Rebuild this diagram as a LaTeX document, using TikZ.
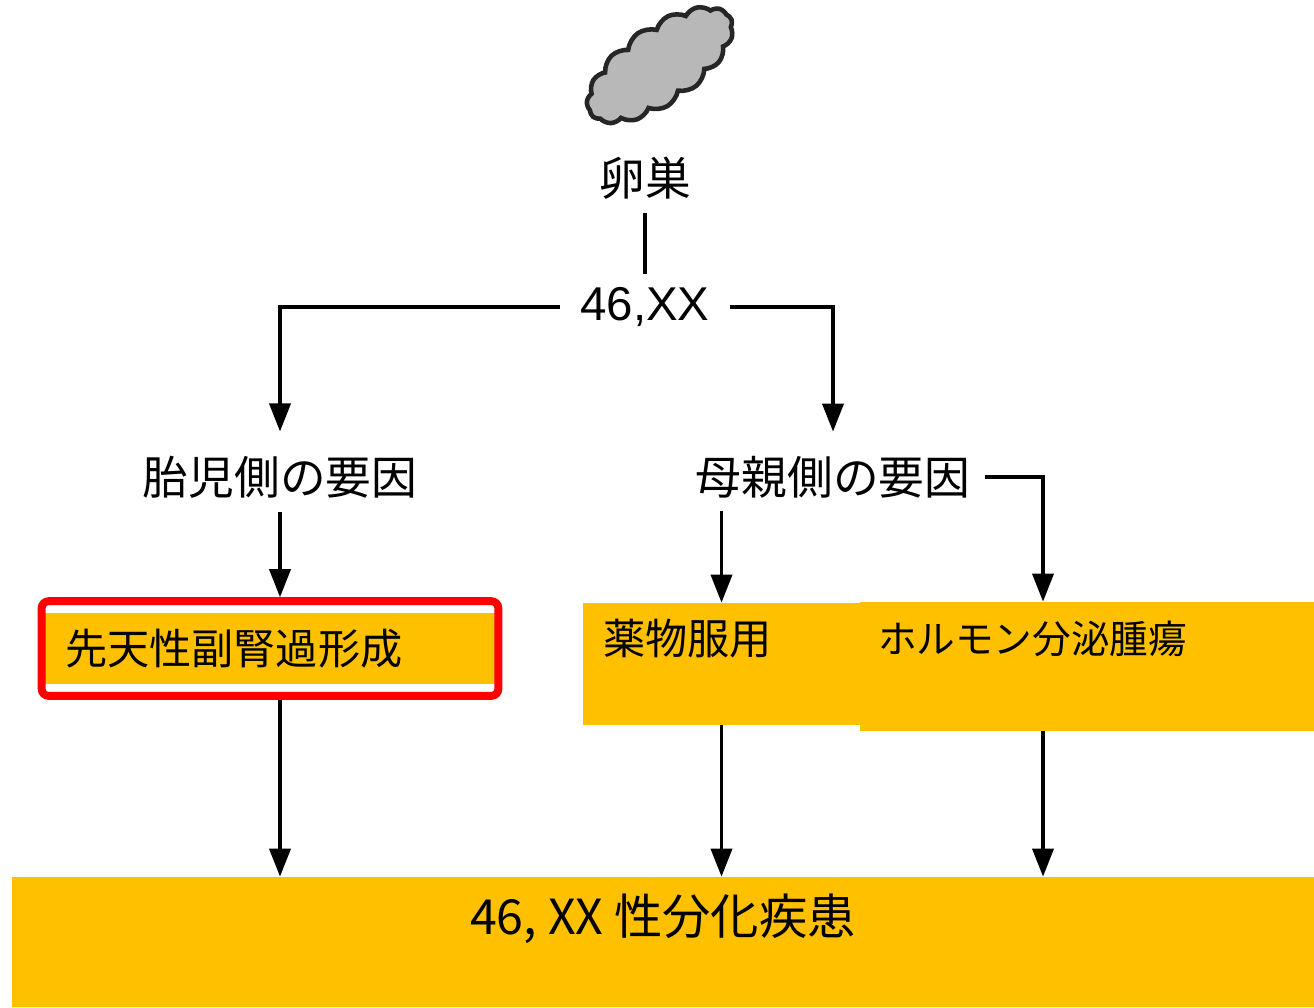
\documentclass[tikz,border=0pt]{standalone}
\usepackage{fontspec}
\setmainfont{Noto Sans CJK JP}
\newfontfamily\latinfont{Liberation Sans}
\usepackage{tikz}
\usetikzlibrary{arrows.meta,positioning,calc,fit,shapes.symbols}
\definecolor{boxorange}{RGB}{255,192,0}

\begin{document}
\begin{tikzpicture}[node distance=1cm, auto]

\tikzstyle{organ} = [cloud, cloud puffs=15, cloud puff arc=100, aspect=2.3, minimum width=3.4cm, minimum height=1.55cm, fill=black!28, draw=black!85, line width=2.6pt]
\tikzstyle{caption} = [inner xsep=0.3cm, inner ysep=0.26cm, font=\fontsize{26}{30}\selectfont]
\tikzstyle{cause} = [rectangle, fill=boxorange, inner ysep=0pt, font=\fontsize{24}{28}\selectfont]
\tikzstyle{redframe} = [rectangle, rounded corners=4pt, draw=red, line width=4.5pt, inner xsep=0.06cm, inner ysep=0.23cm]
\tikzstyle{line} = [line width=2.1pt]
\tikzstyle{arrow} = [line width=2.1pt,-{Triangle[length=16pt,width=12pt]}]

\useasboundingbox (0,0) rectangle (26.28,-20.14);

\node (gonad) [organ, rotate=35] at (13.2,-1.3) {};
\node (ovary) [caption, below of=gonad, xshift=-0.3cm, yshift=-1.26cm] {卵巣};
\node (xx) [caption, below of=ovary, yshift=-1.58cm, inner xsep=0.4cm, font=\latinfont\fontsize{27}{32}\selectfont] {46,XX};
\node (fetal) [caption, below of=xx, xshift=-7.3cm, yshift=-2.4cm] {胎児側の要因};
\node (mother) [caption, right of=fetal, xshift=10.06cm] {母親側の要因};

\node (cah) [cause, below of=fetal, xshift=-0.2cm, yshift=-2.43cm, inner xsep=0.4cm, text width=8.2cm, minimum height=1.42cm] {先天性副腎過形成};
\node (cahframe) [redframe, fit=(cah)] {};
\node (drug) [cause, below of=mother, xshift=-2.23cm, yshift=-2.74cm, inner xsep=0.4cm, inner ysep=0.32cm] {\parbox[c][1.8cm][t]{4.74cm}{薬物服用}};
\node (tumor) [cause, right of=drug, xshift=6.31cm, yshift=-0.05cm, inner xsep=0.36cm, inner ysep=0.38cm, font=\fontsize{22}{26}\selectfont] {\parbox[c][1.82cm][t]{8.36cm}{ホルモン分泌腫瘍}};
\node (final) [cause, below of=xx, xshift=0.36cm, yshift=-11.70cm, inner xsep=0.37cm, inner ysep=0.34cm, font=\fontsize{27.5}{32}\selectfont] {\parbox[c][1.92cm][t]{25.3cm}{\centering 46, XX 性分化疾患}};

\coordinate (tin) at ([xshift=-0.88cm]tumor.north);
\coordinate (tout) at ([xshift=-0.88cm]tumor.south);

\draw [line] (ovary) -- (xx);
\draw [arrow] (xx.west) -| ([yshift=0.22cm]fetal.north);
\draw [arrow] (xx.east) -| ([yshift=0.22cm]mother.north);
\draw [arrow] (fetal.south) -- (fetal.south |- cahframe.north);
\draw [arrow] (drug.north |- mother.south) -- (drug.north);
\draw [arrow] (mother.east) -| (tin);
\draw [arrow] (fetal.south |- cahframe.south) -- (fetal.south |- final.north);
\draw [arrow] (drug.south) -- (drug.south |- final.north);
\draw [arrow] (tout) -- (tout |- final.north);
\end{tikzpicture}
\end{document}
